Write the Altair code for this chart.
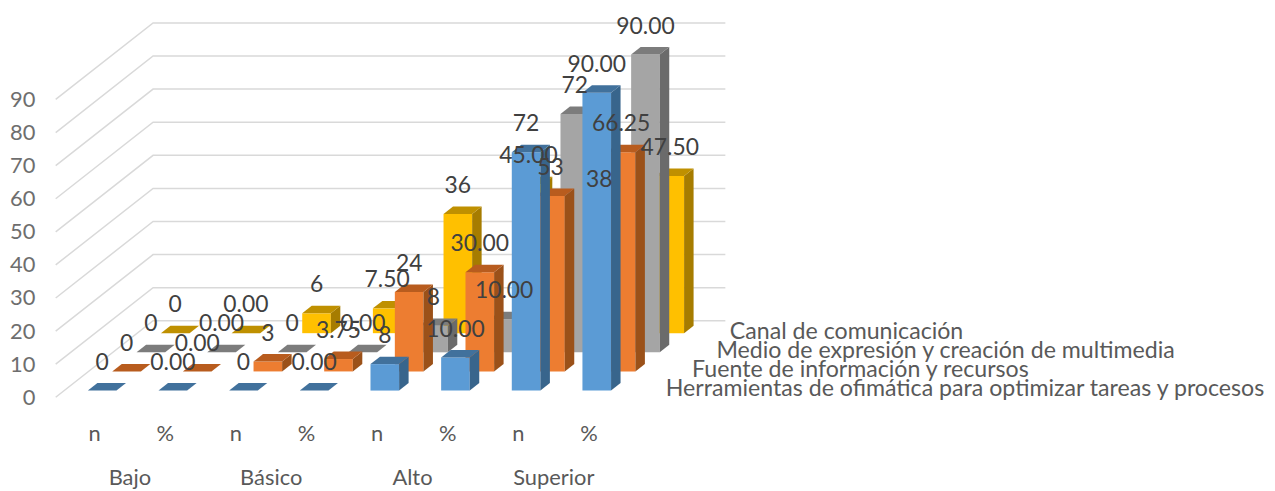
import altair as alt
import pandas as pd

# ---- data ----
levels = ["Bajo", "Básico", "Alto", "Superior"]
measures = ["n", "%"]
series_names = [
    "Herramientas de ofimática para optimizar tareas y procesos",
    "Fuente de información y recursos",
    "Medio de expresión y creación de multimedia",
    "Canal de comunicación",
]
herramientas = [0, 0.00, 0, 0.00, 8, 10.00, 72, 90.00]
fuente = [0, 0.00, 3, 3.75, 24, 30.00, 53, 66.25]
medio = [0, 0.00, 0, 0.00, 8, 10.00, 72, 90.00]
canal = [0, 0.00, 6, 7.50, 36, 45.00, 38, 47.50]
series_values = [herramientas, fuente, medio, canal]
y_ticks = [0, 10, 20, 30, 40, 50, 60, 70, 80, 90]

front_colors = ["#5B9BD5", "#ED7D31", "#A5A5A5", "#FFC000"]
top_colors = ["#41719C", "#B85C1E", "#7C7C7C", "#BF9000"]
side_colors = ["#38658C", "#9B5119", "#6B6B6B", "#A67C00"]

# ---- oblique projection: depth unit -> shift in category / value units ----
CAT_PX = 71.1
VAL_PX = 3.33
KX = 24.5 / CAT_PX
KY = 19.25 / VAL_PX
C0, C1 = 0.335, 0.74
D0, D1 = 0.35, 0.74
N_CAT = 8
N_DEPTH = 4
PLOT_W = 1219
PLOT_H = 483
ZERO_PX = 390.2
FONT = "Lato"
FS = 23

x_scale = alt.Scale(domain=[0, PLOT_W / CAT_PX], range=[0, PLOT_W], nice=False, zero=False)
y_scale = alt.Scale(domain=[-(PLOT_H - ZERO_PX) / VAL_PX, ZERO_PX / VAL_PX],
                    range=[PLOT_H, 0], nice=False, zero=False)
X = lambda f="x": alt.X(f"{f}:Q", scale=x_scale, axis=None)
X2 = alt.X2("x2:Q")
Y = lambda f="y": alt.Y(f"{f}:Q", scale=y_scale, axis=None)
Y2 = alt.Y2("y2:Q")

# ---- grid ----
grid_rows = []
for v in y_ticks:
    grid_rows += [
        dict(v=v, o=0, x=0, y=v),
        dict(v=v, o=1, x=N_DEPTH * KX, y=v + N_DEPTH * KY),
        dict(v=v, o=2, x=N_CAT + 0.1 + N_DEPTH * KX, y=v + N_DEPTH * KY),
    ]
grid = alt.Chart(pd.DataFrame(grid_rows)).mark_line(color="#D9D9D9", strokeWidth=1.5).encode(
    x=X(),
    y=alt.Y("y:Q", scale=y_scale, axis=alt.Axis(
        values=y_ticks, grid=False, domain=False, ticks=False, title=None, orient="left",
        labelFont=FONT, labelFontSize=FS - 1, labelColor="#6E6E6E", labelPadding=21)),
    detail="v:N",
    order="o:Q",
)

layers = [grid]
label_rows = []
# back series first, so that the front series paint over them
for s in reversed(range(len(series_values))):
    vals = series_values[s]
    front, top, side = [], [], []
    for c, v in enumerate(vals):
        xa, xb = c + C0 + (s + D0) * KX, c + C1 + (s + D0) * KX
        ya, yb = (s + D0) * KY, v + (s + D0) * KY
        front.append(dict(x=xa, x2=xb, y=ya, y2=yb))
        xc, xd = c + C0 + (s + D1) * KX, c + C1 + (s + D1) * KX
        yd = v + (s + D1) * KY
        top += [dict(b=c, x=xa, x2=xb, y=yb), dict(b=c, x=xc, x2=xd, y=yd)]
        side += [dict(b=c, x=xb, y=ya, y2=yb),
                 dict(b=c, x=xd, y=(s + D1) * KY, y2=yd)]
        text = f"{v:.2f}" if c % 2 else f"{int(v)}"
        label_rows.append(dict(x=(xa + xb) / 2, y=yb, t=text))
    layers.append(alt.Chart(pd.DataFrame(front)).mark_rect(color=front_colors[s]).encode(
        x=X(), x2=X2, y=Y(), y2=Y2))
    layers.append(alt.Chart(pd.DataFrame(side)).mark_area(
        color=side_colors[s], orient="vertical", interpolate="linear").encode(
        x=X(), y=Y(), y2=Y2, detail="b:N"))
    layers.append(alt.Chart(pd.DataFrame(top)).mark_area(
        color=top_colors[s], orient="horizontal", interpolate="linear").encode(
        y=Y(), x=X(), x2=X2, detail="b:N"))

# ---- data labels ----
layers.append(alt.Chart(pd.DataFrame(label_rows)).mark_text(
    font=FONT, fontSize=FS, color="#404040", baseline="middle", align="center", dy=-28
).encode(x=X(), y=Y(), text="t:N"))

# ---- category labels ----
cat_rows = [dict(x=i + 0.55, y=-11, t=measures[i % 2]) for i in range(N_CAT)]
lvl_rows = [dict(x=2 * i + 1.05, y=-24.3, t=l) for i, l in enumerate(levels)]
layers.append(alt.Chart(pd.DataFrame(cat_rows + lvl_rows)).mark_text(
    font=FONT, fontSize=FS - 1, color="#595959", baseline="middle", align="center"
).encode(x=X(), y=Y(), text="t:N"))

# ---- depth-axis labels ----
nudges = [0, 2, 2, -9]
for s, name in enumerate(series_names):
    row = dict(x=N_CAT + s * KX + 0.635, y=s * KY + 2.4, t=name)
    layers.append(alt.Chart(pd.DataFrame([row])).mark_text(
        font=FONT, fontSize=23.3, color="#595959", baseline="middle", align="left", dx=nudges[s]
    ).encode(x=X(), y=Y(), text="t:N"))

chart = alt.layer(*layers).resolve_scale(x="shared", y="shared").resolve_axis(y="independent").properties(
    width=PLOT_W, height=PLOT_H,
    padding={"left": 48, "top": 0, "right": 0, "bottom": 0},
    autosize=alt.AutoSizeParams(type="none"),
).configure_view(stroke=None)

chart.save("out.html", embed_options={"renderer": "svg", "actions": False})
